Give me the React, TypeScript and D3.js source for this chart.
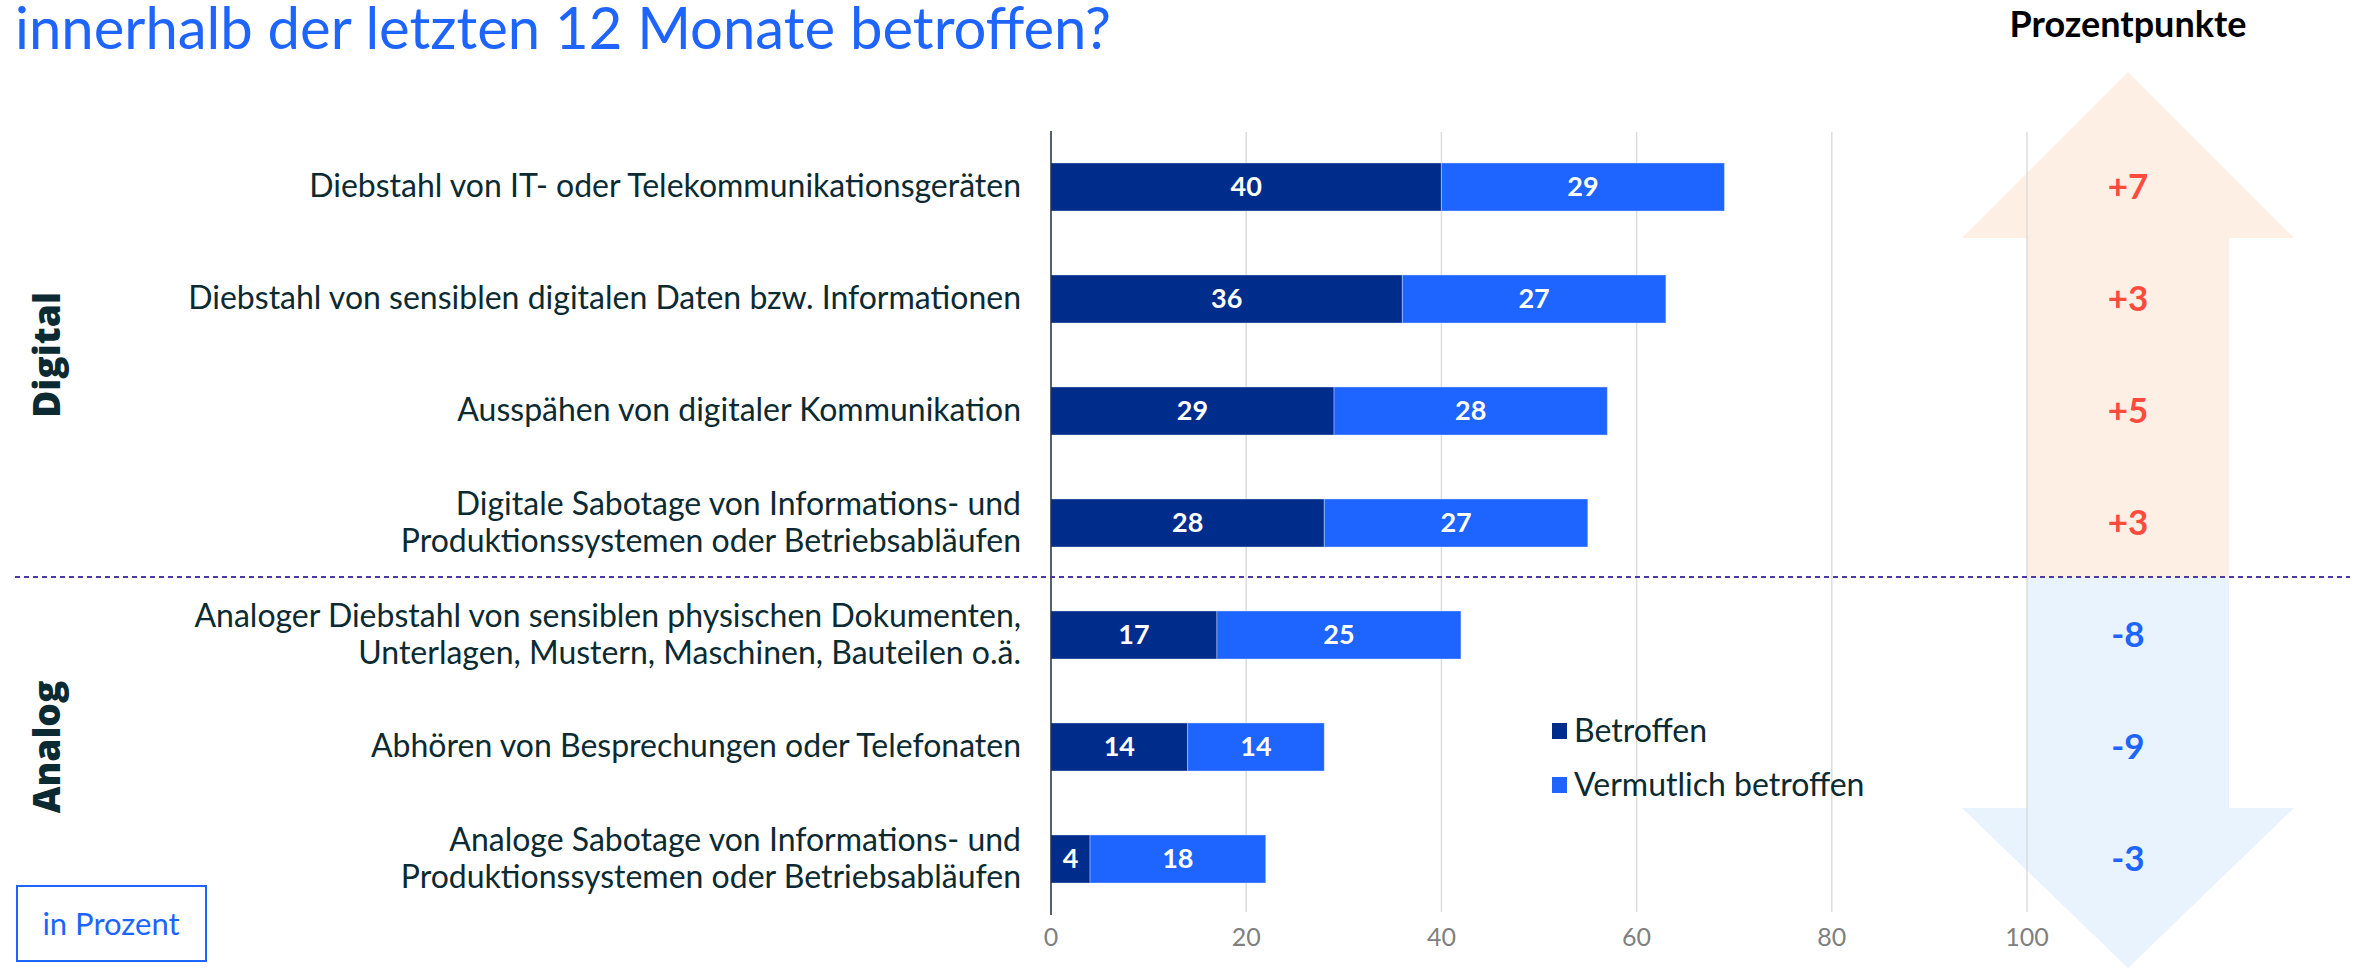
import { useCallback, useEffect, useRef } from 'react';
import { scaleBand, scaleLinear, select } from 'd3';

const categories = [
  ['Diebstahl von IT- oder Telekommunikationsgeräten'],
  ['Diebstahl von sensiblen digitalen Daten bzw. Informationen'],
  ['Ausspähen von digitaler Kommunikation'],
  ['Digitale Sabotage von Informations- und', 'Produktionssystemen oder Betriebsabläufen'],
  ['Analoger Diebstahl von sensiblen physischen Dokumenten,', 'Unterlagen, Mustern, Maschinen, Bauteilen o.ä.'],
  ['Abhören von Besprechungen oder Telefonaten'],
  ['Analoge Sabotage von Informations- und', 'Produktionssystemen oder Betriebsabläufen'],
];
const betroffen = [40, 36, 29, 28, 17, 14, 4];
const vermutlich = [29, 27, 28, 27, 25, 14, 18];
const deltas = [7, 3, 5, 3, -8, -9, -3];
const groupNames = ['Digital', 'Analog'];
const groupSizes = [4, 3];
const xTicks = [0, 20, 40, 60, 80, 100];
const seriesNames = ['Betroffen', 'Vermutlich betroffen'];

const W = 2369;
const H = 968;
const DARK = '#002d8c';
const LIGHT = '#1e64ff';
const TEXT = '#0b2a31';
const FONT = 'Lato, sans-serif';

export default function App() {
  const ref = useRef<HTMLDivElement>(null);

  const draw = useCallback(() => {
    const container = ref.current;
    if (!container) return;
    const div = select(container);
    div.select('svg').remove();

    const svg = div
      .append('svg')
      .attr('width', W)
      .attr('height', H)
      .style('position', 'absolute')
      .style('left', 0)
      .style('top', 0)
      .style('font-family', FONT);

    svg.append('rect').attr('width', W).attr('height', H).attr('fill', '#fff');

    const x = scaleLinear().domain([0, 100]).range([1051, 2027]);
    const y = scaleBand<number>()
      .domain(categories.map((_, i) => i))
      .range([131, 915])
      .paddingInner(0.571)
      .paddingOuter(0.2855);
    const bw = y.bandwidth();
    const split = groupSizes[0];
    const sepY = (Number(y(split - 1)) + bw + Number(y(split))) / 2 - 2;

    // arrows (behind everything)
    const cx = 2128;
    const shaftL = 2027;
    const shaftR = 2229;
    const wingL = 1962;
    const wingR = 2294;
    const upWing = 238;
    const downWing = 808;
    svg
      .append('path')
      .attr(
        'd',
        `M${cx},72 L${wingR},${upWing} L${shaftR},${upWing} L${shaftR},${sepY} L${shaftL},${sepY} L${shaftL},${upWing} L${wingL},${upWing} Z`
      )
      .attr('fill', '#fdefe4');
    svg
      .append('path')
      .attr(
        'd',
        `M${shaftL},${sepY} L${shaftR},${sepY} L${shaftR},${downWing} L${wingR},${downWing} L${cx},968 L${wingL},${downWing} L${shaftL},${downWing} Z`
      )
      .attr('fill', '#e8f3fe');

    // title (second line, cut at the top)
    svg
      .append('text')
      .attr('x', 15)
      .attr('y', 49)
      .attr('fill', LIGHT)
      .style('font-size', '58px')
      .text('innerhalb der letzten 12 Monate betroffen?');

    svg
      .append('text')
      .attr('x', cx)
      .attr('y', 37)
      .attr('text-anchor', 'middle')
      .attr('fill', '#000')
      .style('font-size', '36px')
      .style('font-weight', 700)
      .text('Prozentpunkte');

    // gridlines
    svg
      .append('g')
      .selectAll('line')
      .data(xTicks.slice(1))
      .join('line')
      .attr('x1', (d) => x(d))
      .attr('x2', (d) => x(d))
      .attr('y1', 132)
      .attr('y2', 912)
      .attr('stroke', '#dcdcdc')
      .attr('stroke-width', 1.5);

    // tick labels
    svg
      .append('g')
      .selectAll('text')
      .data(xTicks)
      .join('text')
      .attr('x', (d) => x(d))
      .attr('y', 946)
      .attr('text-anchor', 'middle')
      .attr('fill', '#808080')
      .style('font-size', '25px')
      .text((d) => d);

    // bars
    const rows = svg
      .append('g')
      .selectAll('g')
      .data(categories.map((_, i) => i))
      .join('g');
    rows
      .append('rect')
      .attr('x', x(0))
      .attr('y', (i) => Number(y(i)))
      .attr('width', (i) => x(betroffen[i]) - x(0))
      .attr('height', bw)
      .attr('fill', DARK)
      .attr('stroke', 'rgba(255,255,255,0.35)')
      .attr('stroke-width', 1);
    rows
      .append('rect')
      .attr('x', (i) => x(betroffen[i]))
      .attr('y', (i) => Number(y(i)))
      .attr('width', (i) => x(betroffen[i] + vermutlich[i]) - x(betroffen[i]))
      .attr('height', bw)
      .attr('fill', LIGHT)
      .attr('stroke', 'rgba(255,255,255,0.35)')
      .attr('stroke-width', 1);
    rows
      .append('text')
      .attr('x', (i) => x(betroffen[i] / 2))
      .attr('y', (i) => Number(y(i)) + bw / 2 + 9)
      .attr('text-anchor', 'middle')
      .attr('fill', '#fff')
      .style('font-size', '27px')
      .style('font-weight', 700)
      .text((i) => betroffen[i]);
    rows
      .append('text')
      .attr('x', (i) => x(betroffen[i] + vermutlich[i] / 2))
      .attr('y', (i) => Number(y(i)) + bw / 2 + 9)
      .attr('text-anchor', 'middle')
      .attr('fill', '#fff')
      .style('font-size', '27px')
      .style('font-weight', 700)
      .text((i) => vermutlich[i]);

    // category labels
    rows
      .append('text')
      .attr('text-anchor', 'end')
      .attr('fill', TEXT)
      .style('font-size', '32px')
      .each(function (i) {
        const lines = categories[i];
        const cy = Number(y(i)) + bw / 2;
        const t = select(this);
        lines.forEach((line, k) => {
          t.append('tspan')
            .attr('x', 1021)
            .attr('y', cy + 10 + (k - (lines.length - 1) / 2) * 37)
            .text(line);
        });
      });

    // delta labels
    rows
      .append('text')
      .attr('x', cx)
      .attr('y', (i) => Number(y(i)) + bw / 2 + 12)
      .attr('text-anchor', 'middle')
      .attr('fill', (i) => (deltas[i] > 0 ? '#ff4b3e' : LIGHT))
      .style('font-size', '35px')
      .style('font-weight', 700)
      .text((i) => (deltas[i] > 0 ? `+${deltas[i]}` : `${deltas[i]}`));

    // axis line
    svg
      .append('line')
      .attr('x1', x(0))
      .attr('x2', x(0))
      .attr('y1', 131)
      .attr('y2', 915)
      .attr('stroke', '#1b2b3b')
      .attr('stroke-width', 1.5);

    // separator
    svg
      .append('line')
      .attr('x1', 15)
      .attr('x2', 2350)
      .attr('y1', sepY)
      .attr('y2', sepY)
      .attr('stroke', '#4b3aa6')
      .attr('stroke-width', 2)
      .attr('stroke-dasharray', '5,4');

    // group labels
    let start = 0;
    groupNames.forEach((name, gi) => {
      const end = start + groupSizes[gi] - 1;
      const gy = (Number(y(start)) + Number(y(end)) + bw) / 2;
      svg
        .append('text')
        .attr('transform', `translate(60,${gy}) rotate(-90)`)
        .attr('text-anchor', 'middle')
        .attr('fill', TEXT)
        .style('font-family', '"Open Sans", sans-serif')
        .style('font-size', '37px')
        .style('font-weight', 800)
        .text(name);
      start = end + 1;
    });

    // legend
    const legend = svg
      .append('g')
      .selectAll('g')
      .data(seriesNames)
      .join('g')
      .attr('transform', (_, i) => `translate(1552,${731 + i * 54})`);
    legend
      .append('rect')
      .attr('x', 0)
      .attr('y', -8)
      .attr('width', 15)
      .attr('height', 16)
      .attr('fill', (_, i) => (i === 0 ? DARK : LIGHT));
    legend
      .append('text')
      .attr('x', 22)
      .attr('y', 11)
      .attr('fill', TEXT)
      .style('font-size', '32px')
      .text((d) => d);

    // unit box
    svg
      .append('rect')
      .attr('x', 17)
      .attr('y', 886)
      .attr('width', 189)
      .attr('height', 75)
      .attr('fill', 'none')
      .attr('stroke', LIGHT)
      .attr('stroke-width', 2);
    svg
      .append('text')
      .attr('x', 111)
      .attr('y', 935)
      .attr('text-anchor', 'middle')
      .attr('fill', LIGHT)
      .style('font-size', '31px')
      .text('in Prozent');
  }, []);

  useEffect(() => {
    draw();
    const container = ref.current;
    return () => {
      if (container) select(container).select('svg').remove();
    };
  }, [draw]);

  return <div ref={ref} />;
}
